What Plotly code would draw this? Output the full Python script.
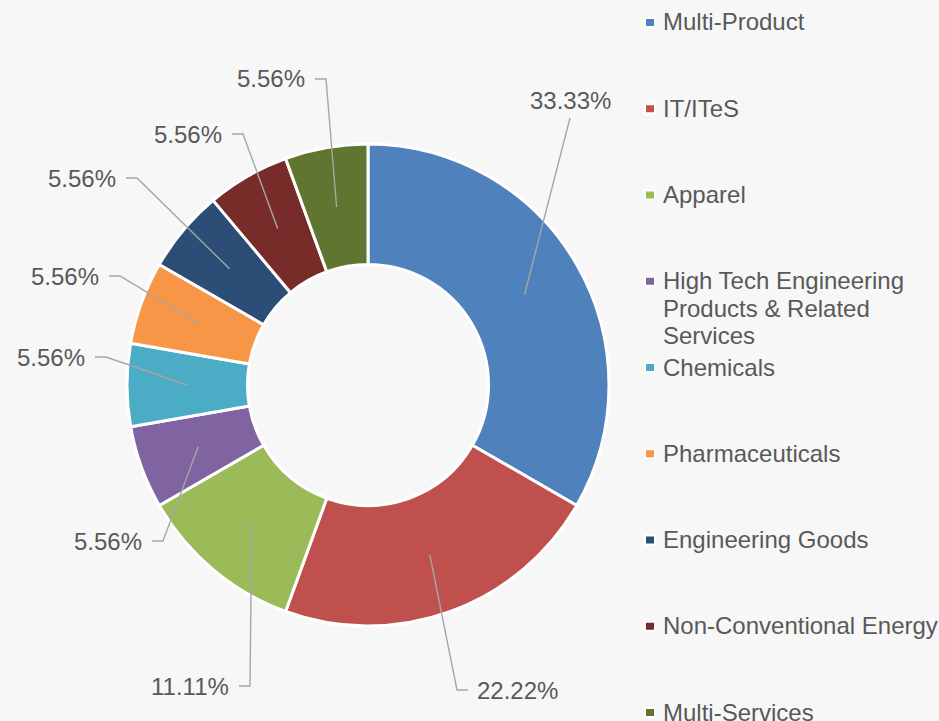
"""Donut chart of sector shares with Excel-style callout labels."""

import math
import textwrap

import plotly.graph_objects as go

CATEGORIES = [
    "Multi-Product",
    "IT/ITeS",
    "Apparel",
    "High Tech Engineering Products & Related Services",
    "Chemicals",
    "Pharmaceuticals",
    "Engineering Goods",
    "Non-Conventional Energy",
    "Multi-Services",
]
VALUES = [6, 4, 2, 1, 1, 1, 1, 1, 1]
COLORS = ["#4F81BD", "#C0504D", "#9BBB59", "#8064A2", "#4BACC6",
          "#F79646", "#2C4D75", "#772C2A", "#5F7530"]

W, H = 939, 721
BG = "#F7F7F7"
TEXT_COLOR = "#595959"
LEADER_COLOR = "#A6A6A6"
FONT = "Liberation Sans, Arial, sans-serif"

# donut geometry in pixels
CX, CY, R = 368, 385, 241
HOLE = 0.5

# callout elbows (px) and where the label sits relative to the elbow
CALLOUTS = [
    (570, 118, "top"),
    (457, 690, "right"),
    (250, 686, "left"),
    (163, 541, "left"),
    (106, 357, "left"),
    (120, 276, "left"),
    (137, 178, "left"),
    (243, 134, "left"),
    (326, 79, "left"),
]
TAIL = 11

# legend layout (px)
LEG_SQ_X, LEG_TEXT_X = 650, 661
LEG_Y0, LEG_PITCH, LINE_PITCH = 22, 86.25, 27.5


def px(x, y):
    return x / W, 1 - y / H


fig = go.Figure(
    go.Pie(
        labels=CATEGORIES,
        values=VALUES,
        hole=HOLE,
        sort=False,
        direction="clockwise",
        rotation=0,
        textinfo="none",
        hoverinfo="label+percent",
        marker=dict(colors=COLORS, line=dict(color="#FFFFFF", width=3)),
        domain=dict(x=[(CX - R) / W, (CX + R) / W], y=[1 - (CY + R) / H, 1 - (CY - R) / H]),
        showlegend=False,
    )
)

shapes, annotations = [], []
total = sum(VALUES)
cum = 0
r_anchor = R * (1 + HOLE) / 2
for val, (ex, ey, side) in zip(VALUES, CALLOUTS):
    theta = 2 * math.pi * (cum + val / 2) / total
    cum += val
    ax = CX + r_anchor * math.sin(theta)
    ay = CY - r_anchor * math.cos(theta)
    pts = [(ax, ay), (ex, ey)]
    label = f"{val / total * 100:.2f}%"
    if side == "left":
        pts.append((ex - TAIL, ey))
        tx, ty, anchor = ex - TAIL - 8, ey, "right"
    elif side == "right":
        pts.append((ex + TAIL, ey))
        tx, ty, anchor = ex + TAIL + 7, ey, "left"
    else:
        tx, ty, anchor = ex, ey - 17, "center"
    path = "M " + " L ".join(f"{px(x, y)[0]},{px(x, y)[1]}" for x, y in pts)
    shapes.append(dict(type="path", xref="paper", yref="paper", path=path,
                       line=dict(color=LEADER_COLOR, width=1.4)))
    annotations.append(dict(x=px(tx, ty)[0], y=px(tx, ty)[1], xref="paper", yref="paper",
                            text=label, showarrow=False, xanchor=anchor, yanchor="middle",
                            font=dict(size=24, color=TEXT_COLOR, family=FONT)))

# manual legend with a fixed pitch, like the original
for i, (name, color) in enumerate(zip(CATEGORIES, COLORS)):
    yc = LEG_Y0 + i * LEG_PITCH
    x0, y0 = px(LEG_SQ_X - 5, yc - 4)
    x1, y1 = px(LEG_SQ_X + 5, yc + 5)
    shapes.append(dict(type="rect", xref="paper", yref="paper", x0=x0, y0=y0, x1=x1, y1=y1,
                       fillcolor=color, line=dict(color="#FFFFFF", width=2)))
    for j, line in enumerate(textwrap.wrap(name, 23)):
        lx, ly = px(LEG_TEXT_X, yc + j * LINE_PITCH)
        annotations.append(dict(x=lx, y=ly, xref="paper", yref="paper", text=line,
                                showarrow=False, xanchor="left", yanchor="middle",
                                font=dict(size=24, color=TEXT_COLOR, family=FONT)))

fig.update_layout(
    width=W,
    height=H,
    margin=dict(l=0, r=0, t=0, b=0),
    paper_bgcolor=BG,
    plot_bgcolor=BG,
    shapes=shapes,
    annotations=annotations,
    font=dict(family=FONT, color=TEXT_COLOR),
)

# drop the default page margin so the figure fills the window
fig.write_html("out.html", config={"displayModeBar": False},
               post_script="document.body.style.margin='0';")
